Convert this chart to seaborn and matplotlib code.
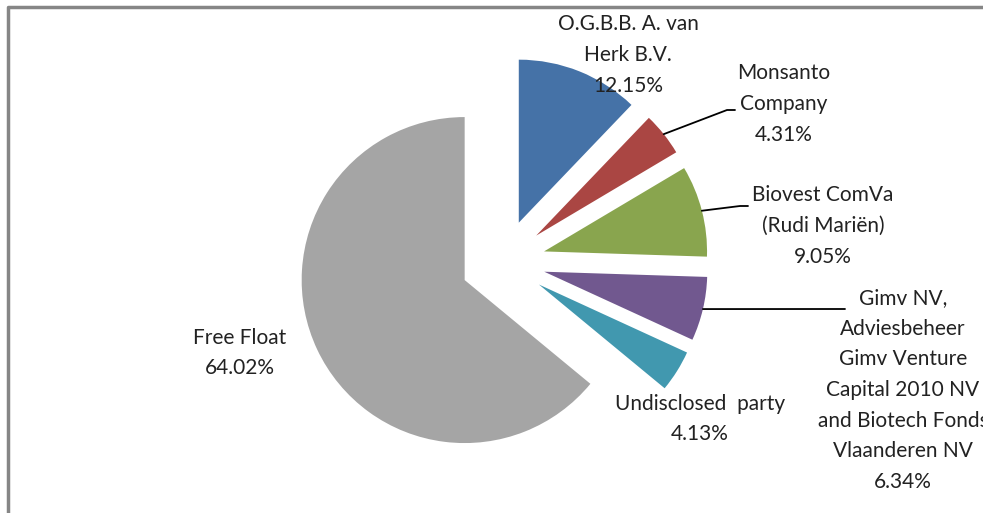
import numpy as np
import seaborn as sns
import matplotlib.pyplot as plt
from matplotlib.lines import Line2D

# shareholders, clockwise from 12 o'clock
holders = ["O.G.B.B. A. van\nHerk B.V.",
           "Monsanto\nCompany",
           "Biovest ComVa\n(Rudi Mariën)",
           "Gimv NV,\nAdviesbeheer\nGimv Venture\nCapital 2010 NV\nand Biotech Fonds\nVlaanderen NV",
           "Undisclosed  party",
           "Free Float"]
shares = [12.15, 4.31, 9.05, 6.34, 4.13, 64.02]
colors = ["#4572A7", "#AA4643", "#89A54E", "#71588F", "#4198AF", "#A5A5A5"]

# layout, in pixels of the 983x513 canvas
W, H = 983, 513
CX, CY, R = 503, 262, 163          # pie centre and radius
label_px = [(628, 55), (784, 104), (823, 226), (903, 390), (700, 419), (240, 353)]
leader = [None, (727, 110, 735), (740, 206, 748), (845, 309, 845), None, None]

sns.set_theme(style="white")
plt.rcParams["font.family"] = ["Lato", "DejaVu Sans"]

fig = plt.figure(figsize=(W / 100, H / 100), dpi=100)
ax = fig.add_axes([0, 0, 1, 1])

wedges, _ = ax.pie(shares, colors=colors, startangle=90, counterclock=False,
                   explode=[0.26] * len(shares), radius=1,
                   wedgeprops=dict(linewidth=0))
ax.set_aspect("auto")
ax.set_xlim(-CX / R, (W - CX) / R)
ax.set_ylim(-(H - CY) / R, CY / R)
ax.axis("off")


def to_data(px, py):
    return (px - CX) / R, (CY - py) / R


for w, name, val, pos, ld in zip(wedges, holders, shares, label_px, leader):
    x, y = to_data(*pos)
    ax.text(x, y, f"{name}\n{val:.2f}%", ha="center", va="center",
            fontsize=15, color="#222222", linespacing=1.66)
    if ld is not None:
        mid = np.deg2rad((w.theta1 + w.theta2) / 2)
        cx, cy = w.center
        sx, sy = cx + w.r * np.cos(mid), cy + w.r * np.sin(mid)
        ex, ey = to_data(ld[0], ld[1])
        fx, _ = to_data(ld[2], ld[1])
        ax.plot([sx, ex, fx], [sy, ey, ey], color="black", linewidth=1.3)

# chart frame (only top and left edges visible)
fig.add_artist(Line2D([8 / W, 8 / W, 1], [0, 1 - 7 / H, 1 - 7 / H],
                      transform=fig.transFigure, color="#868686", linewidth=2.5))

fig.savefig("out.png", dpi=100)
